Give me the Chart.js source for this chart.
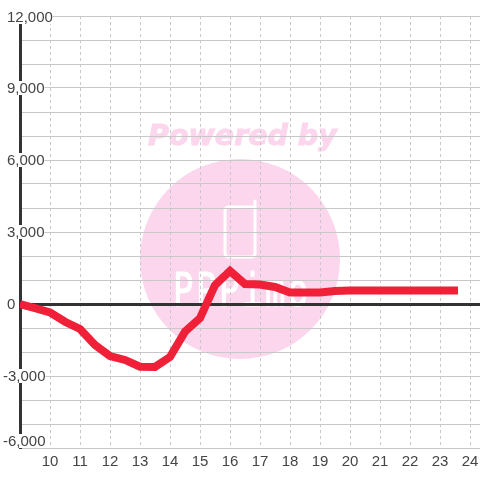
<!DOCTYPE html>
<html>
<head>
<meta charset="utf-8">
<style>
  html, body { margin: 0; padding: 0; background: #fff; }
  #wrap { width: 480px; height: 480px; }
</style>
<script src="https://cdn.jsdelivr.net/npm/chart.js@4"></script>
</head>
<body>
<div id="wrap"><canvas id="chart" width="480" height="480"></canvas></div>
<script>
const hours = [9, 9.5, 10, 10.5, 11, 11.5, 12, 12.5, 13, 13.5, 14, 14.5, 15, 15.5, 16, 16.5, 17, 17.5, 18, 18.5, 19, 19.5, 20, 20.5, 21, 21.5, 22, 22.5, 23, 23.6];
const values = [0, -170, -350, -740, -1040, -1710, -2170, -2330, -2610, -2620, -2210, -1150, -590, 790, 1380, 830, 810, 710, 480, 480, 480, 540, 560, 560, 560, 560, 560, 560, 560, 560];
const yLabelValues = [12000, 9000, 6000, 3000, 0, -3000, -6000];
const xLabelHours = [10, 11, 12, 13, 14, 15, 16, 17, 18, 19, 20, 21, 22, 23, 24];

const textColor = '#444';
const gridColor = '#c8c8c8';
const axisColor = '#333';
const tickFont = '15px "Liberation Sans"';

// watermark sits under the grid
const watermark = {
  id: 'watermark',
  beforeDraw(chart) {
    const ctx = chart.ctx;
    ctx.save();
    ctx.fillStyle = '#fff';
    ctx.fillRect(0, 0, 480, 480);
    ctx.fillStyle = '#fcd6ec';
    ctx.beginPath();
    ctx.arc(240, 259, 100, 0, Math.PI * 2);
    ctx.fill();
    ctx.font = 'italic bold 28.5px "DejaVu Sans"';
    ctx.textAlign = 'left';
    ctx.textBaseline = 'alphabetic';
    ctx.strokeStyle = '#fcd6ec';
    ctx.lineWidth = 1;
    ctx.fillText('Powered by', 148, 145);
    ctx.strokeText('Powered by', 148, 145);

    // phone icon
    ctx.strokeStyle = '#fff';
    ctx.lineWidth = 3;
    ctx.lineJoin = 'round';
    ctx.lineCap = 'round';
    ctx.beginPath();
    ctx.moveTo(253, 207);
    ctx.lineTo(229, 207);
    ctx.quadraticCurveTo(225, 207, 225, 211);
    ctx.lineTo(225, 253);
    ctx.quadraticCurveTo(225, 257, 229, 257);
    ctx.lineTo(251, 257);
    ctx.quadraticCurveTo(255, 257, 255, 253);
    ctx.lineTo(255, 201);
    ctx.stroke();

    // logo letters are tall and narrow
    ctx.fillStyle = '#fff';
    ctx.strokeStyle = '#fff';
    ctx.lineWidth = 0.8;
    ctx.font = '34px "DejaVu Sans Mono"';
    ctx.letterSpacing = '2.5px';
    ctx.translate(173, 306);
    ctx.scale(1, 1.35);
    ctx.fillText('PPPimo', 0, 0);
    ctx.strokeText('PPPimo', 0, 0);
    ctx.restore();
  }
};

// y labels hang over the axis line with a white box behind them
const yLabels = {
  id: 'yLabels',
  beforeDatasetsDraw(chart) {
    const ctx = chart.ctx;
    const scale = chart.scales.y;
    const area = chart.chartArea;
    ctx.save();
    ctx.font = tickFont;
    ctx.textAlign = 'left';
    ctx.textBaseline = 'middle';
    yLabelValues.forEach((v) => {
      const text = v.toLocaleString('en-US');
      const w = ctx.measureText(text).width;
      const x = v < 0 ? 3 : 7;
      const y = Math.max(area.top + 1, Math.min(scale.getPixelForValue(v), area.bottom - 7));
      if (v !== 0) {
        ctx.fillStyle = '#fff';
        ctx.fillRect(x - 1, y - 7, w + 1, 14);
      }
      ctx.fillStyle = textColor;
      ctx.fillText(text, x, y + 1);
    });
    ctx.restore();
  }
};

new Chart(document.getElementById('chart'), {
  type: 'line',
  data: {
    datasets: [{
      data: hours.map((h, i) => ({ x: h, y: values[i] })),
      borderColor: '#f02038',
      borderWidth: 8,
      borderCapStyle: 'butt',
      borderJoinStyle: 'miter',
      pointRadius: 0,
      tension: 0,
    }],
  },
  options: {
    responsive: false,
    animation: false,
    layout: { padding: { left: 20, top: 16, right: 0, bottom: 0 } },
    plugins: { legend: { display: false }, tooltip: { enabled: false } },
    scales: {
      x: {
        type: 'linear',
        min: 9,
        max: 24.333,
        afterFit(scale) {
          scale.height = 32;
          scale.paddingLeft = 0;
          scale.paddingRight = 0;
        },
        grid: { color: gridColor, lineWidth: 1, drawTicks: false },
        border: { display: false, dash: [3, 3] },
        ticks: {
          stepSize: 1,
          includeBounds: false,
          autoSkip: false,
          maxRotation: 0,
          padding: 5,
          color: textColor,
          font: { family: 'Liberation Sans', size: 15 },
          callback: (v) => (xLabelHours.includes(v) ? String(v) : ''),
        },
      },
      y: {
        type: 'linear',
        min: -6000,
        max: 12000,
        afterFit(scale) {
          scale.width = 0;
          scale.paddingTop = 0;
          scale.paddingBottom = 0;
        },
        grid: {
          color: (c) => (c.tick.value === 0 ? axisColor : gridColor),
          lineWidth: (c) => (c.tick.value === 0 ? 3 : 1),
          drawTicks: false,
        },
        border: { display: true, color: axisColor, width: 3 },
        ticks: { stepSize: 1000, display: false },
      },
    },
  },
  plugins: [watermark, yLabels],
});
</script>
</body>
</html>
